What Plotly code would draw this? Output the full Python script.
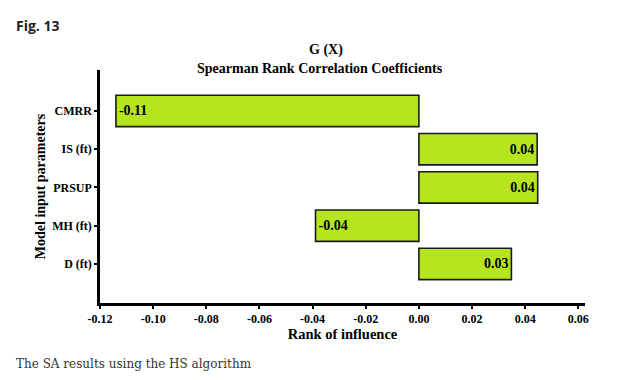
import plotly.graph_objects as go

categories = ["D (ft)", "MH (ft)", "PRSUP", "IS (ft)", "CMRR"]
values = [0.0348, -0.0389, 0.0447, 0.0445, -0.1140]
x_ticks = [-0.12, -0.10, -0.08, -0.06, -0.04, -0.02, 0.00, 0.02, 0.04, 0.06]
x_tick_labels = ["-0.12", "-0.10", "-0.08", "-0.06", "-0.04", "-0.02", "0.00", "0.02", "0.04", "0.06"]

serif = "Liberation Serif, Times New Roman, serif"

fig = go.Figure(go.Bar(
    x=values, y=categories, orientation="h", width=0.82,
    marker=dict(color="#b5e61d", line=dict(color="#1a1a1a", width=1.6)),
    texttemplate="%{x:.2f}", textposition="inside", insidetextanchor="end",
    textfont=dict(family=serif, size=14, color="black", weight="bold"),
    hoverinfo="skip",
))

fig.update_layout(
    width=624, height=380,
    margin=dict(l=100, r=39, t=70, b=77),
    paper_bgcolor="white", plot_bgcolor="white",
    showlegend=False,
    font=dict(family=serif, color="black"),
)
fig.update_xaxes(
    range=[-0.12, 0.0625], tickvals=x_ticks, ticktext=x_tick_labels,
    showgrid=False, zeroline=False,
    showline=True, linecolor="black", linewidth=2.5,
    ticks="outside", ticklen=3, tickwidth=2, tickcolor="black",
    tickfont=dict(family=serif, size=12, color="black", weight="bold"),
    title=dict(text="<b>Rank of influence</b>", font=dict(family=serif, size=14.5), standoff=4),
)
fig.update_yaxes(
    type="category", categoryorder="array", categoryarray=categories,
    range=[-1.02, 5.07],
    showgrid=False, zeroline=False,
    showline=True, linecolor="black", linewidth=2.5,
    ticks="outside", ticklen=3, tickwidth=2, tickcolor="black",
    tickfont=dict(family=serif, size=12, color="black", weight="bold"),
    title=dict(text="<b>Model input parameters</b>", font=dict(family=serif, size=14), standoff=4),
)

fig.add_annotation(text="<b>G (X)</b>", xref="paper", yref="paper", x=0.466, y=1.0, yshift=20,
                   yanchor="middle", showarrow=False, font=dict(family=serif, size=14, color="black"))
fig.add_annotation(text="<b>Spearman Rank Correlation Coefficients</b>", xref="paper", yref="paper",
                   x=0.454, y=1.0, yshift=2, yanchor="middle", showarrow=False,
                   font=dict(family=serif, size=14, color="black"))
fig.add_annotation(text="<b>Fig. 13</b>", xref="paper", yref="paper", xanchor="left", x=0, y=1.0,
                   xshift=-86, yshift=45, yanchor="middle", showarrow=False,
                   font=dict(family="Open Sans, sans-serif", size=14, color="#222"))
fig.add_annotation(text="The SA results using the HS algorithm", xref="paper", yref="paper",
                   xanchor="left", x=0, y=0, xshift=-86, yshift=-61, yanchor="middle", showarrow=False,
                   font=dict(family="DejaVu Serif, serif", size=12, color="#333"))

fig.write_html("out.html", config={"displayModeBar": False},
               post_script="document.body.style.margin='0';document.body.style.padding='0';")
